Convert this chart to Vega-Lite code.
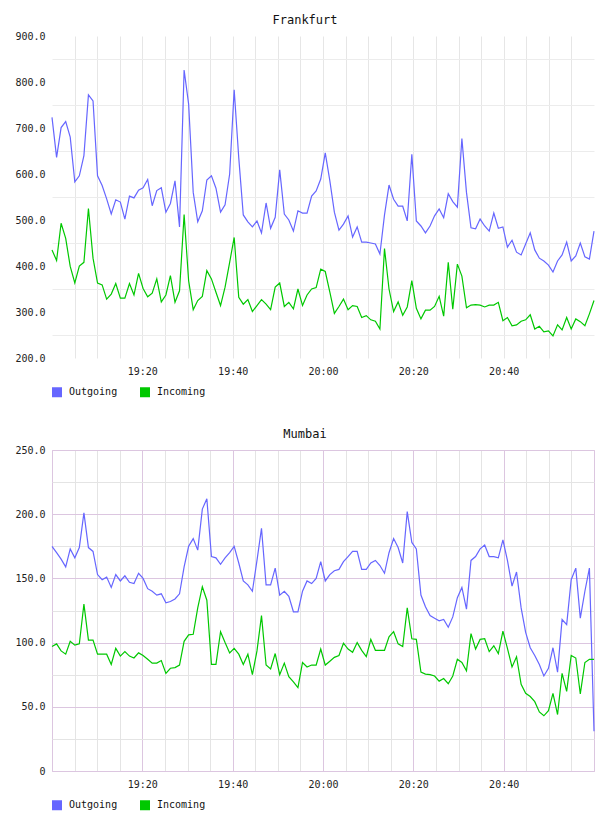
{
  "$schema": "https://vega.github.io/schema/vega-lite/v6.json",
  "padding": {"left": 14, "top": 14, "right": 15, "bottom": 8},
  "spacing": 22,
  "config": {
    "font": "DejaVu Sans Mono",
    "view": {"stroke": null},
    "axis": {"labelFont": "DejaVu Sans Mono", "labelFontSize": 10, "labelColor": "#222", "ticks": false, "domain": false},
    "title": {"font": "DejaVu Sans Mono", "fontSize": 12, "fontWeight": "normal", "color": "#111", "offset": 4},
    "legend": {"labelFont": "DejaVu Sans Mono", "labelFontSize": 10, "labelColor": "#111"}
  },
  "resolve": {"scale": {"color": "independent"}, "legend": {"color": "independent"}},
  "vconcat": [
    {
      "title": {"text": "Frankfurt", "dx": -18},
      "width": 542,
      "height": 322,
      "data": {
        "values": [
          {"t":"2024-01-01T19:00:00","Outgoing":723,"Incoming":435},
          {"t":"2024-01-01T19:01:01","Outgoing":636,"Incoming":412},
          {"t":"2024-01-01T19:02:01","Outgoing":701,"Incoming":493},
          {"t":"2024-01-01T19:03:02","Outgoing":714,"Incoming":460},
          {"t":"2024-01-01T19:04:02","Outgoing":680,"Incoming":399},
          {"t":"2024-01-01T19:05:03","Outgoing":583,"Incoming":363},
          {"t":"2024-01-01T19:06:03","Outgoing":596,"Incoming":400},
          {"t":"2024-01-01T19:07:04","Outgoing":640,"Incoming":408},
          {"t":"2024-01-01T19:08:04","Outgoing":772,"Incoming":525},
          {"t":"2024-01-01T19:09:05","Outgoing":759,"Incoming":417},
          {"t":"2024-01-01T19:10:05","Outgoing":596,"Incoming":363},
          {"t":"2024-01-01T19:11:06","Outgoing":575,"Incoming":359},
          {"t":"2024-01-01T19:12:06","Outgoing":546,"Incoming":328},
          {"t":"2024-01-01T19:13:07","Outgoing":513,"Incoming":339},
          {"t":"2024-01-01T19:14:07","Outgoing":544,"Incoming":362},
          {"t":"2024-01-01T19:15:08","Outgoing":539,"Incoming":330},
          {"t":"2024-01-01T19:16:08","Outgoing":502,"Incoming":330},
          {"t":"2024-01-01T19:17:09","Outgoing":552,"Incoming":362},
          {"t":"2024-01-01T19:18:09","Outgoing":548,"Incoming":337},
          {"t":"2024-01-01T19:19:10","Outgoing":565,"Incoming":384},
          {"t":"2024-01-01T19:20:10","Outgoing":570,"Incoming":351},
          {"t":"2024-01-01T19:21:11","Outgoing":588,"Incoming":333},
          {"t":"2024-01-01T19:22:11","Outgoing":531,"Incoming":341},
          {"t":"2024-01-01T19:23:12","Outgoing":564,"Incoming":372},
          {"t":"2024-01-01T19:24:12","Outgoing":570,"Incoming":322},
          {"t":"2024-01-01T19:25:13","Outgoing":517,"Incoming":337},
          {"t":"2024-01-01T19:26:13","Outgoing":536,"Incoming":379},
          {"t":"2024-01-01T19:27:14","Outgoing":585,"Incoming":321},
          {"t":"2024-01-01T19:28:14","Outgoing":485,"Incoming":346},
          {"t":"2024-01-01T19:29:15","Outgoing":826,"Incoming":512},
          {"t":"2024-01-01T19:30:15","Outgoing":752,"Incoming":368},
          {"t":"2024-01-01T19:31:16","Outgoing":560,"Incoming":305},
          {"t":"2024-01-01T19:32:16","Outgoing":496,"Incoming":325},
          {"t":"2024-01-01T19:33:17","Outgoing":520,"Incoming":334},
          {"t":"2024-01-01T19:34:17","Outgoing":587,"Incoming":390},
          {"t":"2024-01-01T19:35:18","Outgoing":596,"Incoming":372},
          {"t":"2024-01-01T19:36:18","Outgoing":569,"Incoming":343},
          {"t":"2024-01-01T19:37:19","Outgoing":517,"Incoming":314},
          {"t":"2024-01-01T19:38:19","Outgoing":533,"Incoming":354},
          {"t":"2024-01-01T19:39:20","Outgoing":600,"Incoming":408},
          {"t":"2024-01-01T19:40:20","Outgoing":783,"Incoming":462},
          {"t":"2024-01-01T19:41:21","Outgoing":635,"Incoming":332},
          {"t":"2024-01-01T19:42:21","Outgoing":511,"Incoming":317},
          {"t":"2024-01-01T19:43:22","Outgoing":496,"Incoming":327},
          {"t":"2024-01-01T19:44:22","Outgoing":485,"Incoming":301},
          {"t":"2024-01-01T19:45:23","Outgoing":498,"Incoming":314},
          {"t":"2024-01-01T19:46:23","Outgoing":472,"Incoming":327},
          {"t":"2024-01-01T19:47:24","Outgoing":537,"Incoming":317},
          {"t":"2024-01-01T19:48:24","Outgoing":482,"Incoming":305},
          {"t":"2024-01-01T19:49:25","Outgoing":506,"Incoming":354},
          {"t":"2024-01-01T19:50:25","Outgoing":609,"Incoming":363},
          {"t":"2024-01-01T19:51:26","Outgoing":513,"Incoming":312},
          {"t":"2024-01-01T19:52:26","Outgoing":500,"Incoming":321},
          {"t":"2024-01-01T19:53:27","Outgoing":476,"Incoming":307},
          {"t":"2024-01-01T19:54:27","Outgoing":520,"Incoming":350},
          {"t":"2024-01-01T19:55:28","Outgoing":515,"Incoming":314},
          {"t":"2024-01-01T19:56:28","Outgoing":515,"Incoming":337},
          {"t":"2024-01-01T19:57:29","Outgoing":552,"Incoming":350},
          {"t":"2024-01-01T19:58:29","Outgoing":563,"Incoming":353},
          {"t":"2024-01-01T19:59:30","Outgoing":589,"Incoming":393},
          {"t":"2024-01-01T20:00:30","Outgoing":646,"Incoming":388},
          {"t":"2024-01-01T20:01:31","Outgoing":585,"Incoming":343},
          {"t":"2024-01-01T20:02:31","Outgoing":517,"Incoming":297},
          {"t":"2024-01-01T20:03:32","Outgoing":478,"Incoming":312},
          {"t":"2024-01-01T20:04:32","Outgoing":491,"Incoming":328},
          {"t":"2024-01-01T20:05:33","Outgoing":509,"Incoming":305},
          {"t":"2024-01-01T20:06:33","Outgoing":463,"Incoming":314},
          {"t":"2024-01-01T20:07:34","Outgoing":485,"Incoming":312},
          {"t":"2024-01-01T20:08:34","Outgoing":452,"Incoming":288},
          {"t":"2024-01-01T20:09:35","Outgoing":452,"Incoming":292},
          {"t":"2024-01-01T20:10:35","Outgoing":450,"Incoming":283},
          {"t":"2024-01-01T20:11:36","Outgoing":448,"Incoming":280},
          {"t":"2024-01-01T20:12:36","Outgoing":426,"Incoming":263},
          {"t":"2024-01-01T20:13:37","Outgoing":511,"Incoming":438},
          {"t":"2024-01-01T20:14:37","Outgoing":576,"Incoming":350},
          {"t":"2024-01-01T20:15:38","Outgoing":545,"Incoming":301},
          {"t":"2024-01-01T20:16:38","Outgoing":530,"Incoming":322},
          {"t":"2024-01-01T20:17:39","Outgoing":530,"Incoming":293},
          {"t":"2024-01-01T20:18:39","Outgoing":498,"Incoming":311},
          {"t":"2024-01-01T20:19:40","Outgoing":643,"Incoming":368},
          {"t":"2024-01-01T20:20:40","Outgoing":498,"Incoming":308},
          {"t":"2024-01-01T20:21:41","Outgoing":487,"Incoming":285},
          {"t":"2024-01-01T20:22:41","Outgoing":472,"Incoming":304},
          {"t":"2024-01-01T20:23:42","Outgoing":487,"Incoming":304},
          {"t":"2024-01-01T20:24:42","Outgoing":509,"Incoming":312},
          {"t":"2024-01-01T20:25:43","Outgoing":524,"Incoming":334},
          {"t":"2024-01-01T20:26:43","Outgoing":505,"Incoming":291},
          {"t":"2024-01-01T20:27:44","Outgoing":557,"Incoming":408},
          {"t":"2024-01-01T20:28:44","Outgoing":540,"Incoming":306},
          {"t":"2024-01-01T20:29:45","Outgoing":528,"Incoming":404},
          {"t":"2024-01-01T20:30:45","Outgoing":677,"Incoming":378},
          {"t":"2024-01-01T20:31:46","Outgoing":560,"Incoming":309},
          {"t":"2024-01-01T20:32:46","Outgoing":483,"Incoming":315},
          {"t":"2024-01-01T20:33:47","Outgoing":481,"Incoming":316},
          {"t":"2024-01-01T20:34:47","Outgoing":502,"Incoming":315},
          {"t":"2024-01-01T20:35:48","Outgoing":487,"Incoming":311},
          {"t":"2024-01-01T20:36:48","Outgoing":476,"Incoming":315},
          {"t":"2024-01-01T20:37:49","Outgoing":515,"Incoming":315},
          {"t":"2024-01-01T20:38:49","Outgoing":482,"Incoming":321},
          {"t":"2024-01-01T20:39:50","Outgoing":485,"Incoming":281},
          {"t":"2024-01-01T20:40:50","Outgoing":441,"Incoming":288},
          {"t":"2024-01-01T20:41:51","Outgoing":456,"Incoming":270},
          {"t":"2024-01-01T20:42:51","Outgoing":430,"Incoming":272},
          {"t":"2024-01-01T20:43:52","Outgoing":424,"Incoming":280},
          {"t":"2024-01-01T20:44:52","Outgoing":448,"Incoming":283},
          {"t":"2024-01-01T20:45:53","Outgoing":472,"Incoming":294},
          {"t":"2024-01-01T20:46:53","Outgoing":435,"Incoming":263},
          {"t":"2024-01-01T20:47:54","Outgoing":417,"Incoming":269},
          {"t":"2024-01-01T20:48:54","Outgoing":411,"Incoming":257},
          {"t":"2024-01-01T20:49:55","Outgoing":402,"Incoming":259},
          {"t":"2024-01-01T20:50:55","Outgoing":387,"Incoming":248},
          {"t":"2024-01-01T20:51:56","Outgoing":411,"Incoming":272},
          {"t":"2024-01-01T20:52:56","Outgoing":424,"Incoming":261},
          {"t":"2024-01-01T20:53:57","Outgoing":452,"Incoming":288},
          {"t":"2024-01-01T20:54:57","Outgoing":411,"Incoming":263},
          {"t":"2024-01-01T20:55:58","Outgoing":422,"Incoming":285},
          {"t":"2024-01-01T20:56:58","Outgoing":450,"Incoming":279},
          {"t":"2024-01-01T20:57:59","Outgoing":420,"Incoming":270},
          {"t":"2024-01-01T20:58:59","Outgoing":415,"Incoming":296},
          {"t":"2024-01-01T21:00:00","Outgoing":476,"Incoming":325}
        ]
      },
      "transform": [{"fold": ["Outgoing", "Incoming"], "as": ["series", "value"]}],
      "mark": {"type": "line", "strokeWidth": 1.2},
      "encoding": {
        "x": {
          "field": "t", "type": "temporal", "title": null,
          "axis": {
            "tickCount": 24,
            "labelPadding": 8,
            "labelExpr": "(minutes(datum.value) % 20 === 0 && hours(datum.value) * 60 + minutes(datum.value) > 1140 && hours(datum.value) * 60 + minutes(datum.value) < 1260) ? timeFormat(datum.value, '%H:%M') : ''",
            "gridColor": {"condition": {"test": "hours(datum.value) * 60 + minutes(datum.value) > 1140 && hours(datum.value) * 60 + minutes(datum.value) < 1260", "value": "#e6e6e6"}, "value": "transparent"}
          }
        },
        "y": {
          "field": "value", "type": "quantitative", "title": null,
          "scale": {"domain": [200, 900], "nice": false, "zero": false},
          "axis": {
            "values": [200, 250, 300, 350, 400, 450, 500, 550, 600, 650, 700, 750, 800, 850, 900],
            "labelPadding": 7,
            "labelExpr": "datum.value % 100 === 0 ? format(datum.value, '.1f') : ''",
            "gridColor": {"condition": {"test": "datum.value % 100 === 0", "value": "transparent"}, "value": "#ececec"}
          }
        },
        "color": {
          "field": "series", "type": "nominal",
          "scale": {"domain": ["Outgoing", "Incoming"], "range": ["#6666ff", "#00c800"]},
          "legend": {"orient": "bottom", "direction": "horizontal", "title": null, "offset": 11, "symbolType": "square", "symbolSize": 25, "symbolStrokeWidth": 5, "labelOffset": 7, "columnPadding": 14}
        }
      }
    },
    {
      "title": {"text": "Mumbai", "dx": -18},
      "width": 542,
      "height": 321,
      "view": {"stroke": "#dcc6e0"},
      "data": {
        "values": [
          {"t":"2024-01-01T19:00:00","Outgoing":175,"Incoming":97},
          {"t":"2024-01-01T19:01:01","Outgoing":170,"Incoming":99},
          {"t":"2024-01-01T19:02:01","Outgoing":165,"Incoming":93.5},
          {"t":"2024-01-01T19:03:02","Outgoing":159,"Incoming":91},
          {"t":"2024-01-01T19:04:02","Outgoing":173,"Incoming":101},
          {"t":"2024-01-01T19:05:03","Outgoing":166,"Incoming":98},
          {"t":"2024-01-01T19:06:03","Outgoing":174,"Incoming":99},
          {"t":"2024-01-01T19:07:04","Outgoing":201,"Incoming":130},
          {"t":"2024-01-01T19:08:04","Outgoing":174,"Incoming":102},
          {"t":"2024-01-01T19:09:05","Outgoing":171,"Incoming":102},
          {"t":"2024-01-01T19:10:05","Outgoing":153,"Incoming":91},
          {"t":"2024-01-01T19:11:06","Outgoing":149,"Incoming":91},
          {"t":"2024-01-01T19:12:06","Outgoing":151,"Incoming":91},
          {"t":"2024-01-01T19:13:07","Outgoing":143,"Incoming":83},
          {"t":"2024-01-01T19:14:07","Outgoing":153,"Incoming":95.5},
          {"t":"2024-01-01T19:15:08","Outgoing":148,"Incoming":89.5},
          {"t":"2024-01-01T19:16:08","Outgoing":152,"Incoming":93},
          {"t":"2024-01-01T19:17:09","Outgoing":147,"Incoming":89.5},
          {"t":"2024-01-01T19:18:09","Outgoing":146,"Incoming":88},
          {"t":"2024-01-01T19:19:10","Outgoing":154,"Incoming":92},
          {"t":"2024-01-01T19:20:10","Outgoing":150,"Incoming":90},
          {"t":"2024-01-01T19:21:11","Outgoing":142,"Incoming":87},
          {"t":"2024-01-01T19:22:11","Outgoing":140,"Incoming":84},
          {"t":"2024-01-01T19:23:12","Outgoing":137,"Incoming":84},
          {"t":"2024-01-01T19:24:12","Outgoing":138,"Incoming":86},
          {"t":"2024-01-01T19:25:13","Outgoing":131,"Incoming":76},
          {"t":"2024-01-01T19:26:13","Outgoing":132,"Incoming":80},
          {"t":"2024-01-01T19:27:14","Outgoing":134,"Incoming":80.5},
          {"t":"2024-01-01T19:28:14","Outgoing":138,"Incoming":82.5},
          {"t":"2024-01-01T19:29:15","Outgoing":159,"Incoming":101},
          {"t":"2024-01-01T19:30:15","Outgoing":175,"Incoming":106},
          {"t":"2024-01-01T19:31:16","Outgoing":181,"Incoming":106.5},
          {"t":"2024-01-01T19:32:16","Outgoing":172,"Incoming":127},
          {"t":"2024-01-01T19:33:17","Outgoing":204,"Incoming":143.5},
          {"t":"2024-01-01T19:34:17","Outgoing":212,"Incoming":133},
          {"t":"2024-01-01T19:35:18","Outgoing":167,"Incoming":83},
          {"t":"2024-01-01T19:36:18","Outgoing":166,"Incoming":83},
          {"t":"2024-01-01T19:37:19","Outgoing":161,"Incoming":108.5},
          {"t":"2024-01-01T19:38:19","Outgoing":166,"Incoming":100},
          {"t":"2024-01-01T19:39:20","Outgoing":170,"Incoming":92},
          {"t":"2024-01-01T19:40:20","Outgoing":175,"Incoming":95.5},
          {"t":"2024-01-01T19:41:21","Outgoing":162,"Incoming":91},
          {"t":"2024-01-01T19:42:21","Outgoing":148,"Incoming":83},
          {"t":"2024-01-01T19:43:22","Outgoing":145,"Incoming":91},
          {"t":"2024-01-01T19:44:22","Outgoing":140,"Incoming":75},
          {"t":"2024-01-01T19:45:23","Outgoing":164,"Incoming":93.5},
          {"t":"2024-01-01T19:46:23","Outgoing":189,"Incoming":121},
          {"t":"2024-01-01T19:47:24","Outgoing":145,"Incoming":82.5},
          {"t":"2024-01-01T19:48:24","Outgoing":145,"Incoming":79.5},
          {"t":"2024-01-01T19:49:25","Outgoing":158,"Incoming":91.5},
          {"t":"2024-01-01T19:50:25","Outgoing":137,"Incoming":75},
          {"t":"2024-01-01T19:51:26","Outgoing":140,"Incoming":84},
          {"t":"2024-01-01T19:52:26","Outgoing":136,"Incoming":73.5},
          {"t":"2024-01-01T19:53:27","Outgoing":124,"Incoming":69.5},
          {"t":"2024-01-01T19:54:27","Outgoing":124,"Incoming":65},
          {"t":"2024-01-01T19:55:28","Outgoing":140,"Incoming":84.5},
          {"t":"2024-01-01T19:56:28","Outgoing":148,"Incoming":81},
          {"t":"2024-01-01T19:57:29","Outgoing":146,"Incoming":82.5},
          {"t":"2024-01-01T19:58:29","Outgoing":150,"Incoming":82.5},
          {"t":"2024-01-01T19:59:30","Outgoing":163,"Incoming":95},
          {"t":"2024-01-01T20:00:30","Outgoing":148,"Incoming":82.5},
          {"t":"2024-01-01T20:01:31","Outgoing":153,"Incoming":85.5},
          {"t":"2024-01-01T20:02:31","Outgoing":156,"Incoming":88.5},
          {"t":"2024-01-01T20:03:32","Outgoing":157,"Incoming":90},
          {"t":"2024-01-01T20:04:32","Outgoing":163,"Incoming":99.5},
          {"t":"2024-01-01T20:05:33","Outgoing":167,"Incoming":95},
          {"t":"2024-01-01T20:06:33","Outgoing":171,"Incoming":92.5},
          {"t":"2024-01-01T20:07:34","Outgoing":171,"Incoming":100},
          {"t":"2024-01-01T20:08:34","Outgoing":157,"Incoming":94},
          {"t":"2024-01-01T20:09:35","Outgoing":157,"Incoming":89},
          {"t":"2024-01-01T20:10:35","Outgoing":162,"Incoming":102.5},
          {"t":"2024-01-01T20:11:36","Outgoing":164,"Incoming":94},
          {"t":"2024-01-01T20:12:36","Outgoing":160,"Incoming":94},
          {"t":"2024-01-01T20:13:37","Outgoing":154,"Incoming":94},
          {"t":"2024-01-01T20:14:37","Outgoing":170,"Incoming":104.5},
          {"t":"2024-01-01T20:15:38","Outgoing":181,"Incoming":108.5},
          {"t":"2024-01-01T20:16:38","Outgoing":174,"Incoming":99},
          {"t":"2024-01-01T20:17:39","Outgoing":162,"Incoming":97},
          {"t":"2024-01-01T20:18:39","Outgoing":202,"Incoming":127},
          {"t":"2024-01-01T20:19:40","Outgoing":178,"Incoming":103},
          {"t":"2024-01-01T20:20:40","Outgoing":173,"Incoming":102.5},
          {"t":"2024-01-01T20:21:41","Outgoing":137,"Incoming":77},
          {"t":"2024-01-01T20:22:41","Outgoing":128,"Incoming":75.5},
          {"t":"2024-01-01T20:23:42","Outgoing":121,"Incoming":75},
          {"t":"2024-01-01T20:24:42","Outgoing":119,"Incoming":74},
          {"t":"2024-01-01T20:25:43","Outgoing":117,"Incoming":70},
          {"t":"2024-01-01T20:26:43","Outgoing":118,"Incoming":72},
          {"t":"2024-01-01T20:27:44","Outgoing":112,"Incoming":68},
          {"t":"2024-01-01T20:28:44","Outgoing":120,"Incoming":74},
          {"t":"2024-01-01T20:29:45","Outgoing":135,"Incoming":87},
          {"t":"2024-01-01T20:30:45","Outgoing":143,"Incoming":84.5},
          {"t":"2024-01-01T20:31:46","Outgoing":126,"Incoming":78},
          {"t":"2024-01-01T20:32:46","Outgoing":164,"Incoming":107},
          {"t":"2024-01-01T20:33:47","Outgoing":167,"Incoming":95},
          {"t":"2024-01-01T20:34:47","Outgoing":173,"Incoming":102.5},
          {"t":"2024-01-01T20:35:48","Outgoing":176,"Incoming":103},
          {"t":"2024-01-01T20:36:48","Outgoing":167,"Incoming":93},
          {"t":"2024-01-01T20:37:49","Outgoing":167,"Incoming":97.5},
          {"t":"2024-01-01T20:38:49","Outgoing":166,"Incoming":91.5},
          {"t":"2024-01-01T20:39:50","Outgoing":180,"Incoming":109},
          {"t":"2024-01-01T20:40:50","Outgoing":164,"Incoming":95.5},
          {"t":"2024-01-01T20:41:51","Outgoing":144,"Incoming":81},
          {"t":"2024-01-01T20:42:51","Outgoing":155,"Incoming":89},
          {"t":"2024-01-01T20:43:52","Outgoing":127,"Incoming":67.5},
          {"t":"2024-01-01T20:44:52","Outgoing":108,"Incoming":60.5},
          {"t":"2024-01-01T20:45:53","Outgoing":96,"Incoming":58},
          {"t":"2024-01-01T20:46:53","Outgoing":90,"Incoming":54},
          {"t":"2024-01-01T20:47:54","Outgoing":83,"Incoming":46},
          {"t":"2024-01-01T20:48:54","Outgoing":74,"Incoming":43},
          {"t":"2024-01-01T20:49:55","Outgoing":80,"Incoming":47},
          {"t":"2024-01-01T20:50:55","Outgoing":96,"Incoming":60.5},
          {"t":"2024-01-01T20:51:56","Outgoing":77,"Incoming":44},
          {"t":"2024-01-01T20:52:56","Outgoing":118,"Incoming":76},
          {"t":"2024-01-01T20:53:57","Outgoing":114,"Incoming":62},
          {"t":"2024-01-01T20:54:57","Outgoing":149,"Incoming":90},
          {"t":"2024-01-01T20:55:58","Outgoing":158,"Incoming":88},
          {"t":"2024-01-01T20:56:58","Outgoing":119,"Incoming":60},
          {"t":"2024-01-01T20:57:59","Outgoing":140,"Incoming":84.5},
          {"t":"2024-01-01T20:58:59","Outgoing":158,"Incoming":87},
          {"t":"2024-01-01T21:00:00","Outgoing":31,"Incoming":87}
        ]
      },
      "transform": [{"fold": ["Outgoing", "Incoming"], "as": ["series", "value"]}],
      "mark": {"type": "line", "strokeWidth": 1.2},
      "encoding": {
        "x": {
          "field": "t", "type": "temporal", "title": null,
          "axis": {
            "tickCount": 24,
            "labelPadding": 8,
            "labelExpr": "(minutes(datum.value) % 20 === 0 && hours(datum.value) * 60 + minutes(datum.value) > 1140 && hours(datum.value) * 60 + minutes(datum.value) < 1260) ? timeFormat(datum.value, '%H:%M') : ''",
            "gridColor": {"condition": {"test": "minutes(datum.value) % 20 === 0", "value": "#dcc6e0"}, "value": "#e4e4e4"}
          }
        },
        "y": {
          "field": "value", "type": "quantitative", "title": null,
          "scale": {"domain": [0, 250], "nice": false},
          "axis": {
            "values": [0, 25, 50, 75, 100, 125, 150, 175, 200, 225, 250],
            "labelPadding": 7,
            "labelExpr": "datum.value % 50 === 0 ? (datum.value === 0 ? '0' : format(datum.value, '.1f')) : ''",
            "gridColor": {"condition": {"test": "datum.value % 50 === 0", "value": "#dcc6e0"}, "value": "#e4e4e4"}
          }
        },
        "color": {
          "field": "series", "type": "nominal",
          "scale": {"domain": ["Outgoing", "Incoming"], "range": ["#6666ff", "#00c800"]},
          "legend": {"orient": "bottom", "direction": "horizontal", "title": null, "offset": 11, "symbolType": "square", "symbolSize": 25, "symbolStrokeWidth": 5, "labelOffset": 7, "columnPadding": 14}
        }
      }
    }
  ]
}
